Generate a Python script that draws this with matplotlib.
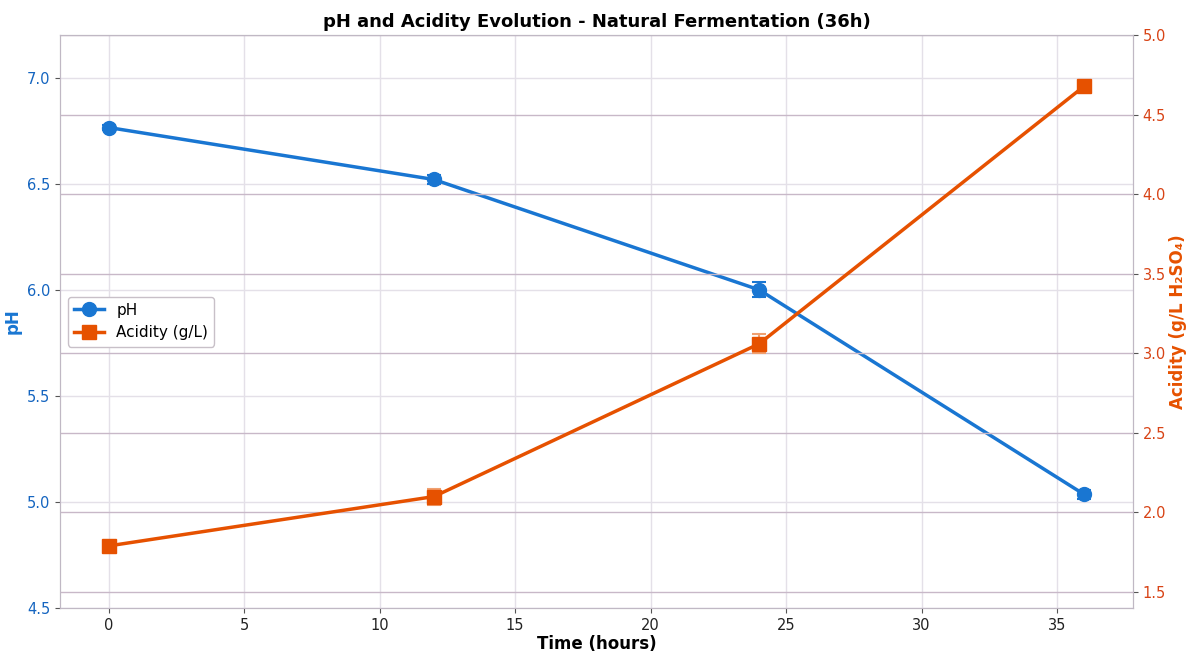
import numpy as np
import matplotlib.pyplot as plt
from matplotlib.lines import Line2D

# data
time_h = [0, 12, 24, 36]
ph = [6.765, 6.52, 6.00, 5.035]
ph_err = [0.01, 0.02, 0.035, 0.02]
acidity = [1.79, 2.10, 3.06, 4.68]
acid_err = [0.02, 0.05, 0.06, 0.03]

ph_color = '#1976D2'
acid_color = '#E65100'

fig, ax1 = plt.subplots(figsize=(11.87, 6.53), dpi=100)
fig.subplots_adjust(left=0.0505, right=0.9545, top=0.946, bottom=0.069)

ax1.errorbar(time_h, ph, yerr=ph_err, color=ph_color, marker='o', markersize=10,
             linewidth=2.5, capsize=5, capthick=1.5, elinewidth=1.5, zorder=3)
ax1.set_xlim(-1.8, 37.8)
ax1.set_ylim(4.5, 7.2)
ax1.set_yticks([4.5, 5.0, 5.5, 6.0, 6.5, 7.0])
ax1.set_xlabel('Time (hours)', fontsize=12, fontweight='bold', labelpad=2)
ax1.set_ylabel('pH', fontsize=12, fontweight='bold', color=ph_color)
ax1.tick_params(axis='y', labelcolor='#1565C0', labelsize=10.5, color='#555555')
ax1.tick_params(axis='x', labelsize=10.5, color='#555555', labelcolor='#222222')
ax1.grid(True, color='#e4e0e8', linewidth=1)
ax1.set_axisbelow(True)

ax2 = ax1.twinx()
ax2.errorbar(time_h, acidity, yerr=acid_err, color=acid_color, marker='s', markersize=10,
             linewidth=2.5, capsize=5, capthick=1.5, elinewidth=1.5, ecolor='#f0a070',
             zorder=3)
ax2.set_ylim(1.4, 5.0)
ax2.set_yticks([1.5, 2.0, 2.5, 3.0, 3.5, 4.0, 4.5, 5.0])
ax2.set_ylabel('Acidity (g/L H₂SO₄)', fontsize=12, fontweight='bold', color=acid_color, labelpad=2)
ax2.tick_params(axis='y', labelcolor='#D84315', labelsize=10.5, color='#555555')
ax2.grid(True, color='#c8b8c8', linewidth=1)

for ax in (ax1, ax2):
    for s in ax.spines.values():
        s.set_color('#c0b8c4')

handles = [Line2D([], [], color=ph_color, marker='o', markersize=10, linewidth=2.5),
           Line2D([], [], color=acid_color, marker='s', markersize=10, linewidth=2.5)]
ax1.legend(handles, ['pH', 'Acidity (g/L)'], loc='center left',
           fontsize=11, framealpha=1, edgecolor='#c8c0c8')

ax1.set_title('pH and Acidity Evolution - Natural Fermentation (36h)', fontsize=13, fontweight='bold')

plt.savefig('out.png', dpi=100)
